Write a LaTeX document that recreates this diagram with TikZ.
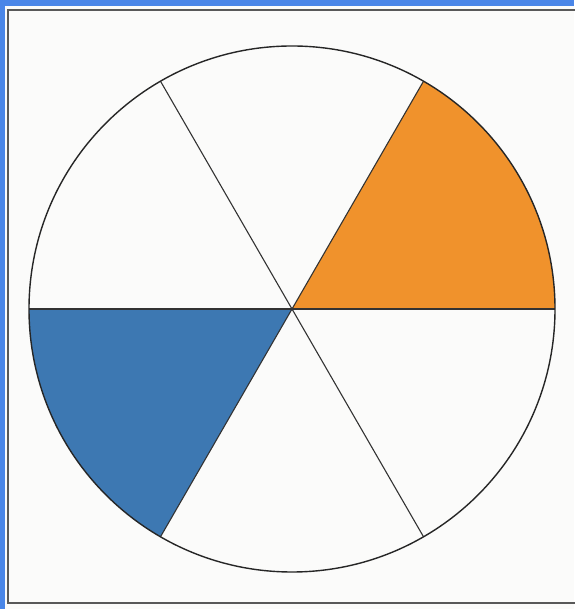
\documentclass[tikz,border=0pt]{standalone}
\definecolor{frameblue}{HTML}{4A86E8}
\definecolor{paper}{HTML}{FBFBFA}
\definecolor{wedgeorange}{HTML}{F0922C}
\definecolor{wedgeblue}{HTML}{3D78B2}
\begin{document}
\begin{tikzpicture}[x=1pt, y=1pt,
        rim/.style={draw=black!85, line width=1.4pt},
        spoke/.style={draw=black!80, line width=1.1pt},
        frame/.style={draw=black!65, line width=1.6pt}]
      \useasboundingbox (0,0) rectangle (574,609);
      % Cadre bleu
      \fill[frameblue] (0,0) rectangle (574,609);
      \fill[paper] (5,0) rectangle (574,603);
      \draw[frame] (8,6) rectangle (600,599);
      % Disque
      \coordinate (O) at (292,300);
      % Secteurs colores
      \fill[wedgeorange] (O) -- ++(0:263) arc (0:60:263) -- cycle;
      \fill[wedgeblue] (O) -- ++(180:263) arc (180:240:263) -- cycle;
      % Diametres
      \foreach \a in {0,60,120}
        \draw[spoke] (O) ++(\a:263) -- ++(\a+180:526);
      % Cercle
      \draw[rim] (O) circle (263);
    \end{tikzpicture}
\end{document}
